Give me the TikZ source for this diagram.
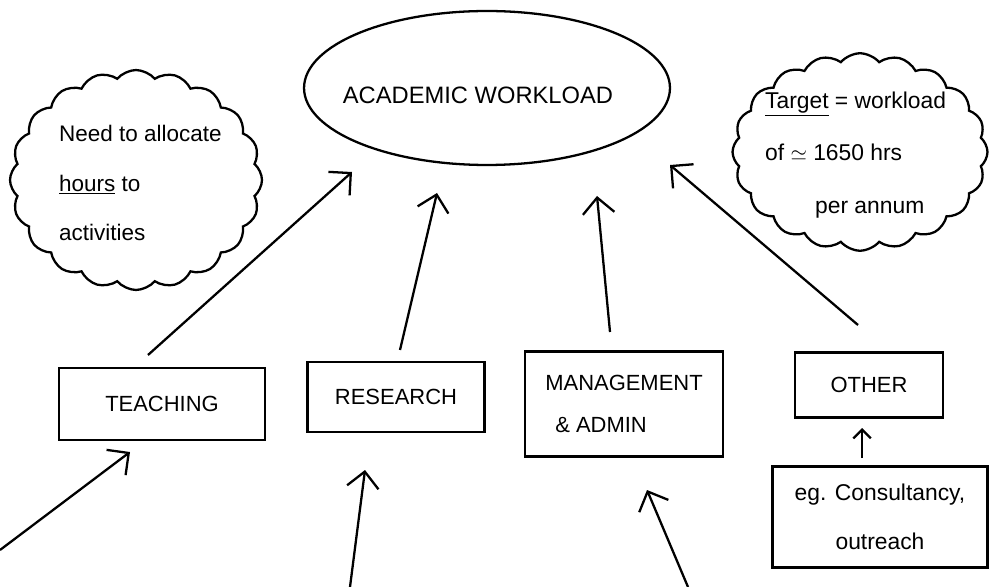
\documentclass[tikz,border=0pt]{standalone}
\usepackage{fontspec}
\setmainfont{Liberation Sans}
\usetikzlibrary{arrows.meta,shapes.geometric,shapes.symbols}
\begin{document}
\begin{tikzpicture}[x=0.02cm,y=-0.02cm, line width=1.3pt,
  arr/.style={-{Straight Barb[length=9pt,width=18pt,line width=1.3pt]}},
  arrsmall/.style={-{Straight Barb[length=5pt,width=10pt,line width=1.3pt]}},
  box/.style={draw, rectangle, inner sep=0pt, font=\fontsize{12.5}{24}\selectfont},
  cloudbox/.style={draw, cloud, cloud puffs=20, cloud puff arc=100, cloud ignores aspect, inner sep=0pt},
  txt/.style={inner sep=0pt, font=\fontsize{13}{30}\selectfont}]
\useasboundingbox (0,0) rectangle (989,587);

% central ellipse
\node[draw, ellipse, minimum width=7.32cm, minimum height=3.08cm, inner sep=0pt] (wl) at (487,88) {};
\node[inner sep=0pt, font=\fontsize{13.5}{16}\selectfont] (wlt) at (478,95) {ACADEMIC WORKLOAD};

% clouds
\node[cloudbox, minimum width=5.04cm, minimum height=4.4cm] (needc) at (136,180) {};
\node[txt, align=left, anchor=west, font=\fontsize{12.8}{28}\selectfont] (needt) at (58,183) {Need to allocate\\\underline{hours} to\\activities};
\node[cloudbox, minimum width=5.1cm, minimum height=3.95cm] (targc) at (860,152) {};
\node[txt, align=left, anchor=west] (targt) at (764,155) {\underline{Target} = workload\\of $\simeq$ 1650 hrs\\\hspace{1.0cm}per annum};

% boxes
\node[box, minimum width=4.12cm, minimum height=1.44cm] (teach) at (162,404) {TEACHING};
\node[box, minimum width=3.54cm, minimum height=1.4cm] (res) at (396,397) {RESEARCH};
\node[box, minimum width=3.96cm, minimum height=2.1cm, align=left] (mgmt) at (624,404) {MANAGEMENT\\\hspace{0.2cm}\& ADMIN};
\node[box, minimum width=2.96cm, minimum height=1.3cm] (other) at (869,385) {OTHER};
\node[box, minimum width=4.3cm, minimum height=2.02cm, align=center, font=\fontsize{13}{28}\selectfont] (eg) at (880,517) {eg. Consultancy,\\outreach};

% connector ends
\coordinate (t1) at (148,355); \coordinate (t2) at (352,172);
\coordinate (r1) at (400,350); \coordinate (r2) at (437,193);
\coordinate (m1) at (610,332); \coordinate (m2) at (597,196);
\coordinate (o1) at (858,325); \coordinate (o2) at (670,165);
\coordinate (ti0) at (0,550);   \coordinate (ti1) at (130,452);
\coordinate (ri0) at (350,587); \coordinate (ri1) at (365,470);
\coordinate (mi0) at (688,587); \coordinate (mi1) at (647,490);
\coordinate (e1) at (862,458);  \coordinate (e2) at (862,428);

\draw[arr] (t1) -- (t2);
\draw[arr] (r1) -- (r2);
\draw[arr] (m1) -- (m2);
\draw[arr] (o1) -- (o2);
\draw[arr] (ti0) -- (ti1);
\draw[arr] (ri0) -- (ri1);
\draw[arr] (mi0) -- (mi1);
\draw[arrsmall] (e1) -- (e2);
\end{tikzpicture}
\end{document}
